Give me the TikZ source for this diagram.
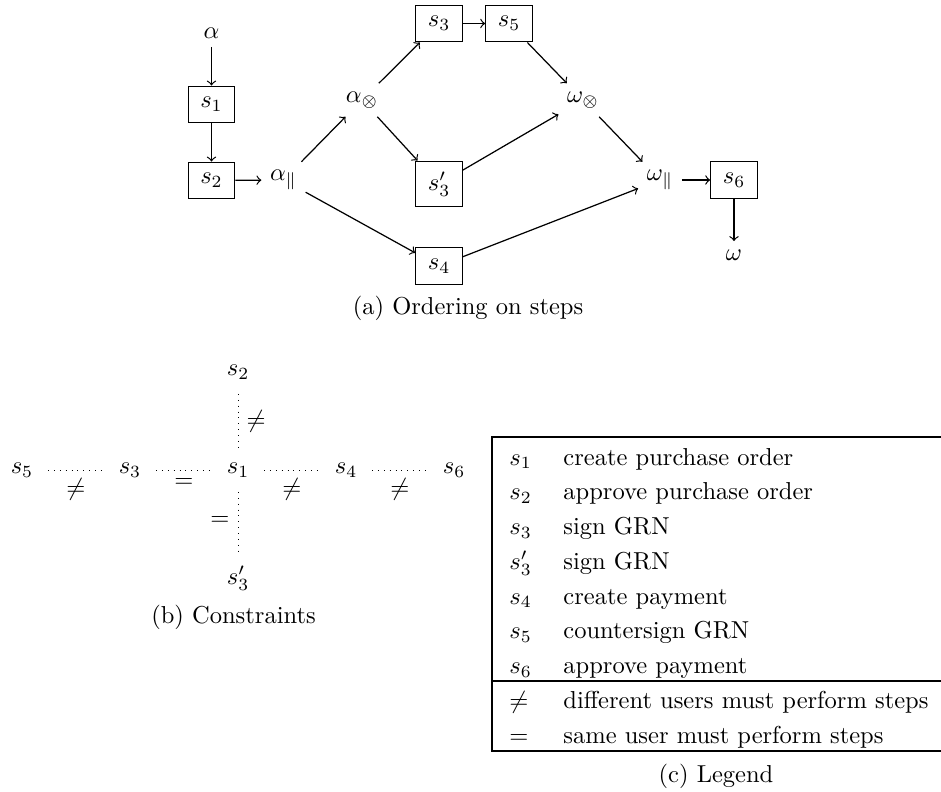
\documentclass[tikz,border=0pt]{standalone}
\usepackage{amsmath}
\begin{document}
\begin{tikzpicture}[x=0.40816pt,y=-0.40816pt,
  stepbox/.style={draw,line width=0.5pt,minimum width=19pt,minimum height=15pt,inner sep=4.3pt},
  flow/.style={->,line width=0.5pt},
  cons/.style={dotted,line width=0.4pt,shorten >=2.5pt,shorten <=2.5pt},
  lab/.style={inner sep=3.33pt},
  rule/.style={line width=0.8pt}]
\useasboundingbox (0,0) rectangle (941,792);
% ---------- (a) ordering on steps
\node (a0) at (211.5,33) {$\alpha$};
\node[stepbox] (s1) at (211.5,104.5) {$s_1$};
\node[stepbox] (s2) at (211.5,180.5) {$s_2$};
\node (ap) at (283.5,180) {$\alpha_{\|}$};
\node (ax) at (362,100) {$\alpha_{\otimes}$};
\node[stepbox] (s3) at (439,23.5) {$s_3$};
\node[stepbox] (s5) at (509,23.5) {$s_5$};
\node[stepbox] (s3p) at (439,184) {$s_3'$};
\node[stepbox] (s4) at (439,266) {$s_4$};
\node (wx) at (583,100) {$\omega_{\otimes}$};
\node (wp) at (660,180) {$\omega_{\|}$};
\node[stepbox] (s6) at (734,180) {$s_6$};
\node (w) at (734,255) {$\omega$};
\draw[flow] (a0) -- (s1);
\draw[flow] (s1) -- (s2);
\draw[flow] (s2) -- (ap);
\draw[flow] (ap) -- (ax);
\draw[flow] (ap) -- (s4);
\draw[flow] (ax) -- (s3);
\draw[flow] (ax) -- (s3p);
\draw[flow] (s3) -- (s5);
\draw[flow] (s5) -- (wx);
\draw[flow] (s3p) -- (wx);
\draw[flow] (wx) -- (wp);
\draw[flow] (s4) -- (wp);
\draw[flow] (wp) -- (s6);
\draw[flow] (s6) -- (w);
\node[anchor=base] (capa) at (468,315) {(a) Ordering on steps};
% ---------- (b) constraints
\node (c2) at (238,372) {$s_2$};
\node (c1) at (238,470) {$s_1$};
\node (c3p) at (238,578) {$s_3'$};
\node (c5) at (22,470) {$s_5$};
\node (c3) at (130,470) {$s_3$};
\node (c4) at (346,470) {$s_4$};
\node (c6) at (454,470) {$s_6$};
\draw[cons] (c5) -- node[lab,below] {$\neq$} (c3);
\draw[cons] (c3) -- node[lab,below] {$=$} (c1);
\draw[cons] (c1) -- node[lab,below] {$\neq$} (c4);
\draw[cons] (c4) -- node[lab,below] {$\neq$} (c6);
\draw[cons] (c2) -- node[lab,right] {$\neq$} (c1);
\draw[cons] (c1) -- node[lab,left] {$=$} (c3p);
\node[anchor=base] (capb) at (233.5,623) {(b) Constraints};
% ---------- (c) legend
\coordinate (tl) at (492,437);
\coordinate (tr) at (941,437);
\coordinate (ml) at (492,681);
\coordinate (mr) at (941,681);
\coordinate (bl) at (492,751);
\coordinate (br) at (941,751);
\draw[rule] (tr) -- (tl) -- (bl) -- (br);
\draw[rule] (ml) -- (mr);
\foreach \i/\sym/\txt in {0/$s_1$/create purchase order,
  1/$s_2$/approve purchase order,
  2/$s_3$/sign GRN,
  3/$s_3'$/sign GRN,
  4/$s_4$/create payment,
  5/$s_5$/countersign GRN,
  6/$s_6$/approve payment,
  7/$\neq$/different users must perform steps,
  8/$=$/same user must perform steps}{
  \node[anchor=base west,inner sep=0pt] (ls\i) at (509,465+34.75*\i) {\sym};
  \node[anchor=base west,inner sep=0pt] (lt\i) at (563,465+34.75*\i) {\txt};
}
\node[anchor=base] (capc) at (716,782) {(c) Legend};
\end{tikzpicture}
\end{document}
